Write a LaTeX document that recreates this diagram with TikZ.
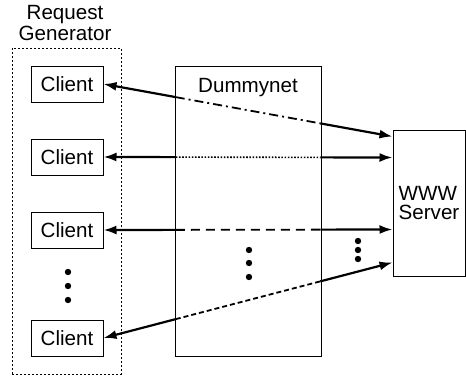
\documentclass[tikz,border=0pt]{standalone}
\usepackage{fontspec}
\setmainfont{Liberation Sans}
\usetikzlibrary{arrows.meta,calc}

\begin{document}
\begin{tikzpicture}[x=0.5pt,y=-0.5pt,
    every node/.style={font=\fontsize{10.3}{10.5}\selectfont},
    client/.style={draw,line width=0.5pt,minimum width=36pt,minimum height=18pt,inner sep=0pt},
    genbox/.style={draw,line width=0.5pt,dash pattern=on 1pt off 1pt,minimum width=54.5pt,minimum height=163pt},
    plainbox/.style={draw,line width=0.5pt,inner sep=0pt},
    link/.style={line width=1.1pt},
    tip/.style={-{Latex[length=6.5pt,width=4.5pt]}},
    dashdotline/.style={line width=0.9pt,dash pattern=on 4.5pt off 2pt on 1pt off 2pt},
    dotline/.style={line width=0.8pt,dash pattern=on 0.8pt off 0.8pt},
    dashline/.style={line width=0.9pt,dash pattern=on 4.5pt off 3pt},
    shortdash/.style={line width=0.9pt,dash pattern=on 2.5pt off 1.5pt},
    vdot/.style={circle,fill,inner sep=0pt,minimum size=3.2pt}]
  \useasboundingbox (0,0) rectangle (466,375);

  \node[genbox] (gen) at (66.5,211) {};
  \node[align=center] (genlabel) at (65,23) {Request\\Generator};
  \node[plainbox,minimum width=73pt,minimum height=145pt] (dn) at (248,211) {};
  \node[below=3pt] (dnlabel) at (dn.north) {Dummynet};
  \node[plainbox,minimum width=36pt,minimum height=73pt,align=left] (srv) at (429,203) {WWW\\[-1pt]Server};

  \node[client] (c1) at (67,84) {Client};
  \node[client] (c2) at (67,157) {Client};
  \node[client] (c3) at (67,230) {Client};
  \node[client] (c4) at (67,338) {Client};

  \foreach \y in {272,286,300} \node[vdot] at (68,\y) {};
  \foreach \y in {250,263,277} \node[vdot] at (249,\y) {};
  \foreach \y in {241,250,259} \node[vdot] at (358,\y) {};

  \coordinate (s1) at ($(srv.north west)+(0,7)$);
  \coordinate (s2) at ($(srv.north west)+(0,28)$);
  \coordinate (s3) at ($(srv.north west)+(0,100)$);
  \coordinate (s4) at ($(srv.north west)+(0,133)$);

  \foreach \i/\mid in {1/dashdotline,2/dotline,3/dashline,4/shortdash} {
    \path (c\i.east) -- coordinate[pos=.25] (a\i) coordinate[pos=.75] (b\i) (s\i);
    \draw[link,tip] (a\i) -- (c\i.east);
    \draw[\mid] (a\i) -- (b\i);
    \draw[link,tip] (b\i) -- (s\i);
  }
\end{tikzpicture}
\end{document}
